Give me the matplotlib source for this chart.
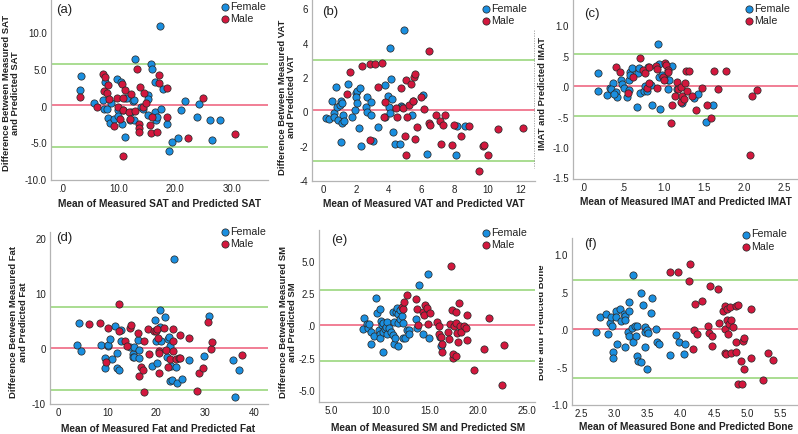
import matplotlib
matplotlib.use("Agg")
import matplotlib.pyplot as plt
from matplotlib.lines import Line2D
from matplotlib.transforms import Bbox

plt.rcParams['font.family'] = ['Liberation Sans', 'DejaVu Sans']

W, H = 798, 434

# ---------------- data ----------------
# (a) SAT
a_female_x = [3.4, 3.3, 5.7, 7.6, 7.3, 7.4, 8.0, 8.7, 8.2, 8.5, 9.3, 9.7, 10.0, 10.0, 10.5, 11.1, 11.6, 10.8, 10.6, 11.2,
              12.1, 12.3, 12.5, 12.7, 12.7, 12.9, 14.0, 14.4, 15.2, 15.3, 15.3, 15.8, 16.0, 16.4, 16.4, 16.6, 16.8, 17.3,
              17.5, 17.9, 18.5, 18.9, 19.4, 20.6, 21.0, 21.8, 23.9, 24.2, 26.1, 26.5, 27.9]
a_female_y = [4.2, 2.3, 0.5, 3.3, 0.9, -0.4, -0.3, 0.5, -1.6, -2.2, -1.7, 3.8, -0.5, -1.3, 3.4, 1.1, 1.1, -0.5, -2.4, -4.2,
              -1.9, -0.7, 0.7, 0.9, -1.9, 6.5, -0.1, -0.4, 1.6, 1.0, -1.2, 5.8, 5.1, 3.4, -0.8, -1.9, -1.4, 11.0,
              -0.3, 2.4, -2.4, -6.1, -4.8, -4.3, -0.5, 0.7, -1.4, 0.4, -1.8, -4.6, -1.8]
a_male_x = [3.2, 6.2, 7.3, 7.7, 7.4, 8.0, 8.2, 8.4, 9.3, 9.7, 10.0, 10.2, 10.6, 11.1, 10.8, 12.2, 10.9, 10.9, 11.8, 12.0,
            13.0, 13.3, 13.9, 13.6, 13.7, 13.6, 14.3, 14.6, 14.9, 15.6, 15.7, 16.0, 17.1, 17.1, 16.9, 18.5, 18.5, 22.3,
            24.9, 30.5]
a_male_y = [1.3, -0.1, 4.4, 4.0, 2.1, 1.9, 2.9, 1.0, -2.6, 1.1, -0.1, -1.7, 3.1, 2.2, 1.1, 1.7, -0.5, -6.8, -0.7, -1.7,
            -0.6, 5.1, 2.6, -2.4, -2.9, -3.5, 0.0, 1.8, 0.5, -2.5, -3.6, -1.4, 4.3, 3.2, -3.4, 2.5, -1.4, -4.3,
            1.1, -3.7]
a_lines = [0.15, 5.75, -5.45]  # mean, upper LoA, lower LoA

# (b) VAT
b_female_x = [0.2, 0.4, 0.55, 0.65, 0.65, 0.8, 0.86, 0.92, 1.04, 1.12, 1.17, 1.23, 1.15, 1.29, 1.08, 1.55, 1.74, 1.98,
              2.02, 2.1, 2.02, 2.06, 2.25, 2.21, 2.29, 2.6, 2.66, 2.7, 2.92, 2.92, 3.05, 3.35, 3.76, 3.78, 3.94, 4.0,
              4.07, 4.13, 4.09, 4.21, 4.27, 4.4, 4.7, 4.74, 4.93, 4.8, 5.4, 5.48, 6.09, 6.32, 8.12, 8.65, 8.1]
b_female_y = [-0.35, -0.4, 0.68, -0.06, -0.25, 1.46, 0.33, -0.45, 0.41, 0.68, 0.56, -0.17, -0.6, -0.52, -1.75, 1.65,
              -0.25, 0.14, 1.15, 1.22, 0.87, 0.56, 1.42, -0.9, -1.96, 0.33, 0.04, 0.87, 0.6, -0.17, -1.69, -0.87,
              -0.29, 1.59, 0.95, 0.33, 3.75, 1.96, -0.06, 0.76, -1.15, -1.83, -1.85, 0.37, 4.8, 0.33, -0.17, 0.66,
              1.0, -2.43, -0.8, -0.8, -2.47]
b_male_x = [1.45, 1.64, 2.39, 2.84, 3.15, 3.62, 3.37, 2.88, 3.78, 3.72, 4.42, 4.48, 4.77, 4.87, 5.03, 5.01, 5.07, 5.09,
            5.23, 5.34, 5.54, 5.58, 5.5, 5.58, 5.69, 5.93, 6.11, 6.44, 6.46, 6.48, 6.89, 7.1, 7.2, 7.3, 7.44, 7.83,
            7.97, 8.4, 8.87, 9.5, 9.71, 9.8, 10.02, 10.63, 12.17]
b_male_y = [1.09, 2.33, 2.68, 2.82, 2.82, 2.87, 1.5, -1.59, 0.62, -0.25, 0.23, -0.29, 1.42, 0.25, 1.9, -1.38, -2.47,
            -0.29, 0.45, 1.65, 2.08, 2.23, 0.64, -1.57, -0.87, 0.87, 0.21, 3.55, -0.6, -0.76, -0.17, -0.52, -1.85,
            -0.72, -0.14, -1.88, -0.76, -1.36, -0.8, -3.44, -1.98, -1.92, -2.5, -0.97, -0.91]
b_lines = [0.12, 3.06, -2.86]

# (c) IMAT
c_female_x = [0.18, 0.18, 0.3, 0.33, 0.37, 0.35, 0.4, 0.42, 0.38, 0.47, 0.48, 0.51, 0.54, 0.57, 0.58, 0.58, 0.57, 0.6,
              0.67, 0.68, 0.69, 0.7, 0.75, 0.77, 0.79, 0.8, 0.84, 0.85, 0.93, 0.94, 0.94, 0.95, 0.98, 1.02, 1.05, 1.07,
              1.1, 1.05, 1.16, 1.22, 1.38, 1.43, 1.52, 1.61]
c_female_y = [0.23, -0.06, -0.13, -0.02, 0.07, -0.04, -0.08, -0.16, -0.12, 0.11, 0.05, -0.02, -0.16, 0.11, 0.25, 0.19,
              -0.05, 0.32, -0.32, 0.23, 0.31, -0.1, -0.07, 0.01, -0.06, 0.33, 0.03, -0.29, 0.7, 0.38, 0.16, -0.36,
              0.19, 0.13, 0.11, 0.12, 0.34, -0.04, -0.03, -0.26, -0.18, -0.12, -0.57, -0.3]
c_male_x = [0.4, 0.45, 0.55, 0.62, 0.71, 0.74, 0.77, 0.79, 0.81, 0.82, 0.9, 0.91, 0.92, 0.99, 1.0, 1.01, 1.03, 1.05,
            1.05, 1.09, 1.1, 1.16, 1.17, 1.14, 1.21, 1.21, 1.22, 1.25, 1.26, 1.28, 1.31, 1.29, 1.35, 1.4, 1.48, 1.54,
            1.59, 1.62, 1.67, 1.77, 2.07, 2.1, 2.16]
c_male_y = [0.33, 0.25, -0.1, 0.17, 0.47, 0.28, 0.23, -0.01, 0.33, 0.06, 0.35, -0.02, 0.3, 0.17, 0.12, 0.39, 0.36, 0.28,
            0.25, -0.59, -0.29, 0.08, -0.03, -0.15, 0.0, -0.25, -0.14, -0.19, 0.06, 0.27, 0.27, -0.07, -0.15, -0.38,
            -0.01, -0.3, -0.51, 0.26, -0.04, 0.27, -1.11, -0.14, -0.05]
c_lines = [0.02, 0.54, -0.48]

# (d) Fat
d_female_x = [3.75, 4.2, 4.7, 8.7, 9.5, 9.5, 10.1, 10.2, 10.6, 11.0, 11.6, 12.1, 12.1, 12.4, 12.8, 12.8, 14.7, 15.2,
              15.2, 15.4, 15.5, 16.4, 16.6, 16.6, 19.2, 19.8, 19.9, 20.2, 20.8, 20.9, 21.1, 21.8, 22.2, 22.5, 22.7,
              22.9, 22.9, 23.1, 23.3, 23.7, 24.0, 24.2, 25.3, 26.8, 29.8, 30.9, 35.8, 36.2, 36.9]
d_female_y = [0.8, 4.7, -0.4, 0.8, -1.7, -3.5, 0.5, 0.7, 1.8, -1.9, 4.2, -0.7, -3.5, -3.8, 1.4, 3.5, 0.4, -0.9, -1.4,
              0.3, -1.4, 1.6, -0.1, -1.7, -3.1, 5.3, 1.4, -2.5, 7.1, 4.1, 1.5, 5.8, -1.4, 1.8, 2.2, 0.5, -5.9, -3.0,
              -5.6, 16.3, -3.2, -6.2, -5.5, -2.0, -1.3, 6.0, -2.0, -8.8, -3.9]
d_male_x = [6.3, 8.5, 9.7, 10.2, 12.4, 12.4, 13.6, 14.0, 14.6, 14.9, 16.3, 16.6, 16.9, 17.3, 17.5, 17.5, 18.4, 18.6,
            19.5, 19.9, 20.2, 20.3, 20.5, 20.7, 20.7, 21.6, 22.0, 22.5, 22.9, 23.4, 23.4, 23.5, 24.1, 24.6, 24.9,
            24.9, 26.8, 28.3, 28.8, 29.7, 30.7, 31.2, 31.5, 37.5]
d_male_y = [4.5, 4.7, -2.4, 3.9, 3.3, 8.2, 1.5, 0.5, 3.8, 4.3, 3.0, -4.9, -3.3, -3.8, 1.5, -7.9, 3.6, -0.9, 3.3, 3.3,
            3.7, 2.1, -0.3, -0.7, -4.4, 3.8, -0.2, -3.3, -1.9, 3.6, -0.4, 1.4, -1.9, -1.7, -1.7, 2.6, 2.0, -7.7,
            -4.3, -3.5, 4.9, 0.0, 1.2, -1.0]
d_lines = [0.1, 7.7, -7.45]

# (e) SM
e_female_x = [8.2, 8.3, 8.6, 8.7, 8.8, 9.0, 9.0, 9.3, 9.55, 9.65, 9.9, 9.95, 9.95, 10.0, 10.06, 10.2, 10.3, 10.3, 10.3,
              10.5, 10.6, 10.7, 10.7, 10.9, 11.1, 11.25, 11.3, 11.4, 11.4, 11.5, 11.6, 11.7, 11.8, 11.8, 11.8, 12.0,
              12.0, 12.2, 12.3, 12.3, 12.5, 12.7, 12.9, 12.9, 13.6, 13.8, 14.0, 14.4, 14.9, 15.0, 16.1, 16.2]
e_female_y = [-0.2, 0.67, 0.15, -0.1, 0.15, -0.47, -1.4, -0.75, 2.2, 1.03, -0.26, 1.37, -0.62, -0.93, 0.41, 0.1, 0.26,
              -1.96, -0.41, -0.2, -0.05, 0.36, -0.62, -0.15, -0.47, 1.14, -0.7, -1.34, 0.36, -0.88, 1.08, 1.4, 0.93,
              0.26, -1.5, 1.29, 0.57, 0.83, 0.26, -0.93, -0.88, -0.26, -0.31, -0.57, 0.57, -0.15, 3.2, -0.57, 4.03,
              -0.88, -0.83, -1.5]
e_male_x = [12.2, 12.3, 12.45, 12.7, 13.6, 13.7, 13.9, 14.4, 14.5, 14.6, 14.8, 14.9, 15.1, 15.8, 16.0, 16.0, 16.2,
            16.3, 16.35, 16.9, 17.0, 17.1, 17.2, 17.3, 17.4, 17.4, 17.5, 17.7, 17.7, 17.7, 17.9, 18.0, 18.1, 18.2,
            18.3, 18.6, 18.8, 18.9, 18.9, 19.6, 20.6, 21.1, 22.7, 22.5]
e_male_y = [1.5, 1.34, 1.9, 2.43, 2.1, 1.34, 0.1, 1.08, 0.88, 1.65, 1.45, 0.21, 1.03, 0.31, 0.0, -0.57, -0.83, -1.34,
            -1.96, -0.41, -0.98, 0.15, 4.7, 1.24, -2.48, -2.17, 0.0, 0.26, 1.14, -2.33, -0.52, -1.24, 1.81, 0.05,
            -0.41, 0.0, -0.1, 0.88, -1.09, -3.36, -1.76, 0.62, -1.42, -4.57]
e_lines = [0.08, 2.84, -2.71]

# (f) Bone
f_female_x = [2.72, 2.77, 2.87, 2.89, 2.93, 2.94, 2.96, 2.98, 2.98, 3.02, 3.02, 3.04, 3.08, 3.1, 3.14, 3.15, 3.16, 3.15,
              3.21, 3.22, 3.2, 3.21, 3.26, 3.27, 3.28, 3.31, 3.32, 3.34, 3.34, 3.35, 3.4, 3.4, 3.42, 3.45, 3.45, 3.45,
              3.48, 3.49, 3.5, 3.55, 3.57, 3.62, 3.64, 3.67, 3.83, 3.92, 3.97, 4.05, 4.06]
f_female_y = [-0.03, 0.18, 0.22, -0.05, 0.1, 0.18, 0.06, -0.29, -0.37, 0.26, 0.18, -0.18, 0.28, 0.12, 0.22, 0.19, 0.13,
              -0.23, 0.26, 0.38, -0.02, -0.08, 0.03, -0.16, 0.74, 0.05, -0.08, 0.06, -0.35, -0.41, -0.43, 0.5, 0.33,
              0.04, -0.03, -0.22, -0.52, 0.0, -0.04, 0.23, 0.43, 0.02, -0.16, -0.19, -0.33, -0.07, -0.16, -0.32, -0.18]
f_male_x = [3.84, 3.95, 4.12, 4.14, 4.18, 4.2, 4.22, 4.25, 4.32, 4.41, 4.43, 4.44, 4.47, 4.47, 4.56, 4.58, 4.63, 4.66,
            4.67, 4.67, 4.68, 4.69, 4.7, 4.71, 4.73, 4.74, 4.76, 4.76, 4.79, 4.83, 4.84, 4.84, 4.86, 4.86, 4.91, 4.93,
            4.94, 4.96, 4.96, 5.06, 5.06, 5.24, 5.31, 5.39]
f_male_y = [0.77, 0.78, 0.66, 0.88, -0.25, 0.0, 0.35, -0.05, 0.39, 0.05, -0.04, 0.59, -0.08, -0.21, 0.55, 0.09, 0.26,
            0.32, 0.01, -0.31, -0.32, 0.13, 0.28, -0.05, 0.08, 0.31, 0.14, -0.3, 0.04, 0.32, -0.16, -0.29, 0.34,
            -0.72, -0.41, -0.72, -0.14, -0.52, -0.1, 0.28, -0.37, -0.67, -0.31, -0.4]
f_lines = [0.01, 0.67, -0.64]

# tick values
a_xticks = [0, 10, 20, 30]
a_yticks = [-10, -5, 0, 5, 10]
b_xticks = [0, 2, 4, 6, 8, 10, 12]
b_yticks = [-4, -2, 0, 2, 4, 6]
c_xticks = [0, 0.5, 1.0, 1.5, 2.0, 2.5]
c_yticks = [-1.5, -1.0, -0.5, 0, 0.5, 1.0]
d_xticks = [0, 10, 20, 30, 40]
d_yticks = [-10, 0, 10, 20]
e_xticks = [5, 10, 15, 20, 25]
e_yticks = [-5, -2.5, 0, 2.5, 5]
f_xticks = [2.5, 3.0, 3.5, 4.0, 4.5, 5.0, 5.5]
f_yticks = [-1.0, -0.5, 0, 0.5, 1.0]

# ---------------- styling ----------------
BLUE = '#1a8fe0'
RED = '#d3173d'
PINK = '#f0748c'
GREEN = '#9bd77e'
SPINE = '#b4b4b4'
TXT = '#222222'

fig = plt.figure(figsize=(W / 100, H / 100), dpi=100)
fig.patch.set_facecolor('white')


def fmt(v, dec):
    if dec == 0:
        return '%d' % round(v)
    s = ('%.' + str(dec) + 'f') % v
    if s.startswith('0.'):
        s = s[1:]
    elif s.startswith('-0.'):
        s = '-' + s[2:]
    return s


def panel(box, xlim, ylim, fx, fy, mx, my, lines, xt, yt, xdec, ydec, letter, letter_pos, leg_pos):
    l, t, r, b = box
    ax = fig.add_axes([l / W, 1 - b / H, (r - l) / W, (b - t) / H])
    ax.set_xlim(*xlim)
    ax.set_ylim(*ylim)
    ax.axhline(lines[1], color=GREEN, lw=1.2, zorder=1)
    ax.axhline(lines[2], color=GREEN, lw=1.2, zorder=1)
    ax.axhline(lines[0], color=PINK, lw=1.3, zorder=1)
    ax.scatter(fx, fy, s=27, c=BLUE, edgecolors='#2b2b2b', linewidths=0.55, zorder=3, label='Female', clip_on=False)
    ax.scatter(mx, my, s=27, c=RED, edgecolors='#2b2b2b', linewidths=0.55, zorder=3, label='Male', clip_on=False)
    for side in ('top', 'right'):
        ax.spines[side].set_visible(False)
    for side in ('left', 'bottom'):
        ax.spines[side].set_color(SPINE)
        ax.spines[side].set_linewidth(0.9)
    ax.set_xticks(xt)
    ax.set_xticklabels([fmt(v, xdec) for v in xt])
    ax.set_yticks(yt)
    ax.set_yticklabels([fmt(v, ydec) for v in yt])
    ax.tick_params(length=0, labelsize=7.0, labelcolor=TXT, pad=3)
    ax.patch.set_alpha(0)
    fig.text(letter_pos[0] / W, 1 - letter_pos[1] / H, letter, fontsize=9.5, color=TXT, ha='left', va='center')
    lg = ax.legend(loc='upper left', bbox_to_anchor=((leg_pos[0] - 3.3) / W, 1 - (leg_pos[1] - 6) / H),
                   bbox_transform=fig.transFigure, frameon=False, fontsize=7.7, handlelength=0.6,
                   handletextpad=0.2, labelspacing=0.2, borderpad=0, borderaxespad=0, markerscale=1.0)
    for tx in lg.get_texts():
        tx.set_color(TXT)
    return ax


LAB = dict(fontsize=7.3, fontweight='bold', color=TXT)
YLAB = dict(fontsize=6.8, fontweight='bold', color=TXT)

# (a)
panel((51, 0, 268, 180), (-1.89, 36.4), (-10, 14.5), a_female_x, a_female_y, a_male_x, a_male_y, a_lines,
      a_xticks, a_yticks, 1, 1, '(a)', (56, 10), (225, 7.5))
# (b)
panel((312, 0, 535, 181), (-0.66, 12.88), (-4, 6.55), b_female_x, b_female_y, b_male_x, b_male_y, b_lines,
      b_xticks, b_yticks, 0, 0, '(b)', (322, 12), (486, 10))
# (c)
panel((573, 0, 798, 179), (-0.128, 2.666), (-1.51, 1.43), c_female_x, c_female_y, c_male_x, c_male_y, c_lines,
      c_xticks, c_yticks, 1, 1, '(c)', (584, 14), (749, 10))
# (d)
panel((50, 232, 268, 404), (-1.7, 42.9), (-10, 21.3), d_female_x, d_female_y, d_male_x, d_male_y, d_lines,
      d_xticks, d_yticks, 0, 0, '(d)', (56, 238), (225, 233))
# (e)
panel((319, 230, 535, 402), (3.70, 25.85), (-5.87, 7.47), e_female_x, e_female_y, e_male_x, e_male_y, e_lines,
      e_xticks, e_yticks, 1, 1, '(e)', (331, 240), (486, 234))
# (f)
panel((572, 238, 798, 405), (2.353, 5.77), (-1.0, 1.227), f_female_x, f_female_y, f_male_x, f_male_y, f_lines,
      f_xticks, f_yticks, 1, 1, '(f)', (584, 244), (746, 235.5))

# axis titles
xlabels = [("Mean of Measured SAT and Predicted SAT", 160, 204),
           ("Mean of Measured VAT and Predicted VAT", 424, 204),
           ("Mean of Measured IMAT and Predicted IMAT", 686, 202),
           ("Mean of Measured Fat and Predicted Fat", 158, 428.5),
           ("Mean of Measured SM and Predicted SM", 428.5, 428),
           ("Mean of Measured Bone and Predicted Bone", 686, 427.5)]
for s, x, y in xlabels:
    fig.text(x / W, 1 - y / H, s, ha='center', va='center', **LAB)

ylabels = [("Difference Between Measured SAT\nand Predicted SAT", 11, 93),
           ("Difference Between Measured VAT\nand Predicted VAT", 287, 97),
           ("IMAT and Predicted IMAT", 542.5, 93.5),
           ("Difference Between Measured Fat\nand Predicted Fat", 18.5, 322),
           ("Difference Between Measured SM\nand Predicted SM", 288, 322)]
for s, x, y in ylabels:
    fig.text(x / W, 1 - y / H, s, ha='center', va='center', rotation=90, multialignment='center',
             linespacing=1.1, **YLAB)

# clipped label of panel (f)
tf = fig.text(541 / W, 1 - 322 / H, "Bone and Predicted Bone", ha='center', va='center', rotation=90, **YLAB)
tf.set_clip_box(Bbox.from_extents(538.5, 0, 560, H))
tf.set_clip_on(True)

# dotted frame edge next to panel (c)
fig.add_artist(Line2D([534 / W, 534 / W], [1 - 30 / H, 1 - 168 / H], transform=fig.transFigure,
                      color='#9a9a9a', lw=0.6, ls=(0, (1.5, 1.5))))

fig.savefig('out.png', dpi=100, facecolor='white')
